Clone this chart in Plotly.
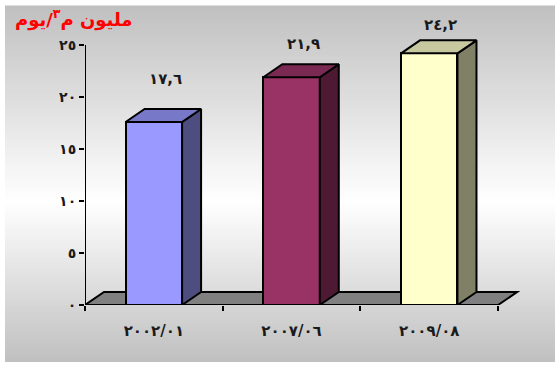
import plotly.graph_objects as go

# ---------------- data ----------------
categories = ["٢٠٠٢/٠١", "٢٠٠٧/٠٦", "٢٠٠٩/٠٨"]
values = [17.6, 21.9, 24.2]
value_labels = ["١٧,٦", "٢١,٩", "٢٤,٢"]
y_tick_values = [0, 5, 10, 15, 20, 25]
y_tick_labels = ["٠", "٥", "١٠", "١٥", "٢٠", "٢٥"]
title_text = "مليون م<sup>٣</sup>/يوم"

# ---------------- style ----------------
front_colors = ["#9999FF", "#993366", "#FFFFCC"]
side_colors = ["#4D4D80", "#4D1933", "#808066"]
top_colors = ["#7878C8", "#7A2952", "#C8C8A0"]
FONT = "DejaVu Sans"

W, H = 555, 365
ML, MR, MT, MB = 85, 35, 20, 60
PW, PH = W - ML - MR, H - MT - MB
CAT_PX = 137.7          # pixels per category
UNIT_PX = 10.4          # pixels per y unit
x_range = [-0.5, -0.5 + PW / CAT_PX]
y_range = [0, PH / UNIT_PX]
DX = 19 / CAT_PX        # depth offset (data units)
DY = 13 / UNIT_PX
BW = 0.41               # bar width

xs = list(range(len(categories)))

fig = go.Figure()

# front faces
fig.add_trace(go.Bar(
    x=xs, y=values, width=BW,
    marker=dict(color=front_colors, line=dict(color="black", width=2)),
    hoverinfo="skip", showlegend=False,
))

# side and top faces (3D effect) computed from values
for i, (c, v) in enumerate(zip(xs, values)):
    r = c + BW / 2
    l = c - BW / 2
    fig.add_trace(go.Scatter(
        x=[r, r + DX, r + DX, r, r], y=[0, DY, v + DY, v, 0],
        mode="lines", fill="toself", fillcolor=side_colors[i],
        line=dict(color="black", width=2), hoverinfo="skip", showlegend=False,
    ))
    fig.add_trace(go.Scatter(
        x=[l, l + DX, r + DX, r, l], y=[v, v + DY, v + DY, v, v],
        mode="lines", fill="toself", fillcolor=top_colors[i],
        line=dict(color="black", width=2), hoverinfo="skip", showlegend=False,
    ))

# y axis line (0..25)
fig.add_trace(go.Scatter(
    x=[-0.5, -0.5], y=[y_tick_values[0], y_tick_values[-1]], mode="lines",
    line=dict(color="black", width=2), hoverinfo="skip", showlegend=False,
))

shapes = []
# background gradient (light in middle, grey at top/bottom)
top_px, bot_px, mid_px = 6, 362, 202
step = 3
py = top_px
while py < bot_px:
    py2 = min(py + step, bot_px)
    m = (py + py2) / 2
    if m < mid_px:
        t = 1 - (mid_px - m) / (mid_px - top_px)
    else:
        t = 1 - (m - mid_px) / (bot_px - mid_px)
    g = int(round(192 + 63 * t))
    shapes.append(dict(
        type="rect", xref="paper", yref="paper", layer="below",
        x0=(5 - ML) / PW, x1=(W - ML) / PW,
        y0=(H - MB - py2) / PH, y1=(H - MB - py) / PH + 0.002,
        fillcolor=f"rgb({g},{g},{g})", line=dict(width=0),
    ))
    py = py2

# floor
fx0, fx1 = -0.5, len(categories) - 0.5
shapes.append(dict(
    type="path", xref="x", yref="y", layer="below",
    path=f"M {fx0},0 L {fx0 + DX},{DY} L {fx1 + DX},{DY} L {fx1},0 Z",
    fillcolor="#808080", line=dict(color="black", width=2),
))

annotations = []
# value labels
for c, v, t in zip(xs, values, value_labels):
    annotations.append(dict(
        x=c + 0.085, y=v * 0.786 + 82 / UNIT_PX, xref="x", yref="y",
        text=t, showarrow=False, xanchor="center", yanchor="middle",
        font=dict(family=FONT, size=15, color="#1a1a1a", weight="bold"),
    ))
# unit title
annotations.append(dict(
    x=(13 - ML) / PW, y=(H - MB - 19) / PH, xref="paper", yref="paper",
    text=title_text, showarrow=False, xanchor="left", yanchor="middle",
    font=dict(family=FONT, size=18, color="#FF0000", weight="bold"),
))

fig.update_layout(
    width=W, height=H,
    margin=dict(l=ML, r=MR, t=MT, b=MB, pad=0),
    paper_bgcolor="white", plot_bgcolor="rgba(0,0,0,0)",
    shapes=shapes, annotations=annotations,
    showlegend=False, bargap=0,
    xaxis=dict(
        range=x_range, type="linear", showgrid=False, zeroline=False, showline=False,
        tickvals=xs, ticktext=categories, ticks="outside", ticklen=12,
        tickcolor="rgba(0,0,0,0)",
        tickfont=dict(family=FONT, size=15, color="#1a1a1a", weight="bold"),
        minor=dict(tickvals=[-0.5, 0.5, 1.5, 2.5], ticks="outside", ticklen=5,
                   tickwidth=2, tickcolor="black", showgrid=False),
        fixedrange=True,
    ),
    yaxis=dict(
        range=y_range, showgrid=False, zeroline=False, showline=False,
        tickvals=y_tick_values, ticktext=y_tick_labels, ticks="outside",
        ticklen=5, tickwidth=2, tickcolor="black",
        tickfont=dict(family=FONT, size=14, color="#1a1a1a", weight="bold"),
        fixedrange=True,
    ),
)

fig.write_html(
    "out.html",
    config={"displayModeBar": False},
    post_script="document.body.style.margin='0';document.body.style.overflow='hidden';",
)
